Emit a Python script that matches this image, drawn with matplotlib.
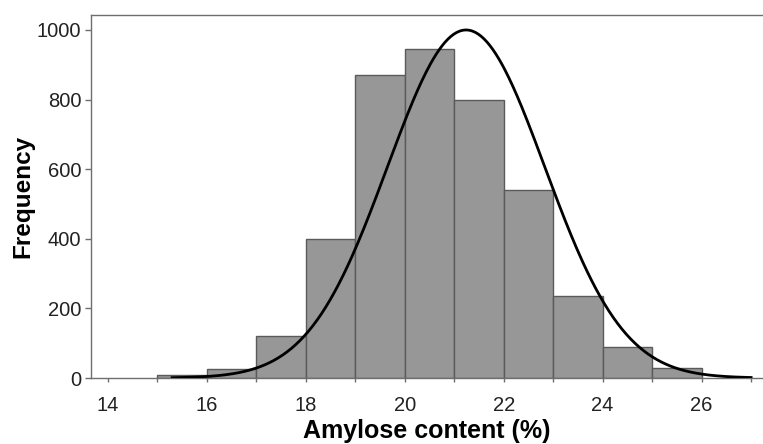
import numpy as np
import matplotlib
matplotlib.use("Agg")
import matplotlib.pyplot as plt

# Data
bin_edges = [15, 16, 17, 18, 19, 20, 21, 22, 23, 24, 25, 26]
counts = [10, 25, 120, 400, 870, 945, 800, 540, 235, 88, 28]
# Fitted normal curve parameters (as drawn in the figure)
fit_mean = 21.24
fit_sd = 1.59
fit_peak = 1000
fit_range = (15.3, 27.0)
xticks = [14, 16, 18, 20, 22, 24, 26]
yticks = [0, 200, 400, 600, 800, 1000]

plt.rcParams['font.family'] = ['Liberation Sans', 'DejaVu Sans']

fig = plt.figure(figsize=(7.63, 4.44), dpi=100)
ax = fig.add_axes([91/763, 66/444, 1 - 91/763, (378 - 15)/444])

edges = np.array(bin_edges, dtype=float)
ax.bar(edges[:-1], counts, width=np.diff(edges), align='edge',
       color='#979797', edgecolor='#5a5a5a', linewidth=1.0, zorder=2)

xs = np.linspace(fit_range[0], fit_range[1], 400)
ys = fit_peak * np.exp(-0.5 * ((xs - fit_mean) / fit_sd) ** 2)
ax.plot(xs, ys, color='black', linewidth=2.0, zorder=3)

ax.set_xlim(13.66, 27.24)
ax.set_ylim(0, 1043)
ax.set_xticks(xticks)
ax.set_xticks(np.arange(14, 28, 1), minor=True)
ax.set_yticks(yticks)

for s in ['right']:
    ax.spines[s].set_visible(False)
for s in ['left', 'bottom', 'top']:
    ax.spines[s].set_color('#6e6e6e')
    ax.spines[s].set_linewidth(1.0)

ax.tick_params(axis='both', which='major', labelsize=14.5, colors='#6e6e6e',
               labelcolor='#222222', length=4, width=1, pad=3)
ax.tick_params(axis='x', which='minor', length=3, width=1, colors='#6e6e6e')
ax.tick_params(axis='x', which='major', length=3, pad=10)

ax.set_xlabel('Amylose content (%)', fontsize=18, fontweight='bold', labelpad=3)
ax.set_ylabel('Frequency', fontsize=17.5, fontweight='bold', labelpad=2)

fig.savefig('out.png', dpi=100)
